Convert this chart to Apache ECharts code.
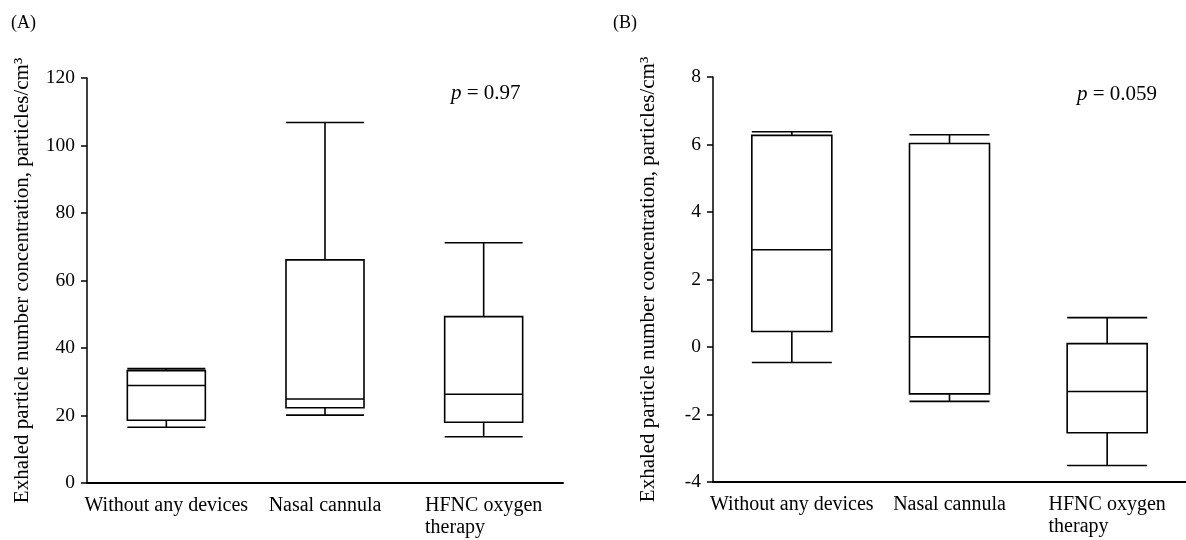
<!DOCTYPE html>
<html>
<head>
<meta charset="utf-8">
<script src="https://cdn.jsdelivr.net/npm/echarts@6/dist/echarts.min.js"></script>
<style>
  html, body { margin: 0; padding: 0; background: #fff; }
  #chart { width: 1186px; height: 540px; }
</style>
</head>
<body>
<div id="chart"></div>
<script>
// categories shared by both panels
var categories = ["Without any devices", "Nasal cannula", "HFNC oxygen\ntherapy"];

// panel A: [min, Q1, median, Q3, max]
var boxA = [
  [16.5, 18.6, 28.9, 33.3, 33.9],
  [20.1, 22.3, 24.9, 66.1, 106.8],
  [13.7, 18.0, 26.3, 49.3, 71.2]
];
// panel B: [min, Q1, median, Q3, max]
var boxB = [
  [-0.46, 0.46, 2.88, 6.27, 6.38],
  [-1.61, -1.39, 0.30, 6.03, 6.29],
  [-3.51, -2.54, -1.32, 0.10, 0.87]
];

var axisA = { min: 0, max: 120, interval: 20 };
var axisB = { min: -4, max: 8, interval: 2 };
var pTexts = ["0.97", "0.059"];
var yName = "Exhaled particle number concentration, particles/cm³";

var FONT = "'Liberation Serif', 'Times New Roman', serif";

function xAxisOf(gridIndex) {
  return {
    type: "category",
    gridIndex: gridIndex,
    data: categories,
    axisLine: { onZero: false, lineStyle: { color: "#000", width: 2 } },
    axisTick: { show: false },
    axisLabel: {
      interval: 0,
      margin: 12,
      color: "#000",
      fontFamily: FONT,
      fontSize: 20,
      lineHeight: 22,
      // left-align the lines of a wrapped label
      formatter: function (v) {
        return v.split("\n").map(function (s) { return "{l|" + s + "}"; }).join("\n");
      },
      rich: { l: { align: "left", fontFamily: FONT, fontSize: 20, lineHeight: 22, color: "#000" } }
    }
  };
}

function yAxisOf(gridIndex, range) {
  return {
    type: "value",
    gridIndex: gridIndex,
    min: range.min,
    max: range.max,
    interval: range.interval,
    name: yName,
    nameLocation: "middle",
    nameGap: 54,
    nameTextStyle: { color: "#000", fontFamily: FONT, fontSize: 21 },
    splitLine: { show: false },
    axisLine: { show: true, lineStyle: { color: "#000", width: 1.5 } },
    axisTick: { show: true, length: 6, lineStyle: { color: "#000", width: 1.5 } },
    axisLabel: { margin: 12, color: "#000", fontFamily: FONT, fontSize: 19.5 }
  };
}

function boxSeries(idx, data, w) {
  return {
    type: "boxplot",
    xAxisIndex: idx,
    yAxisIndex: idx,
    data: data,
    boxWidth: [w, w],
    itemStyle: { color: "#fff", borderColor: "#000", borderWidth: 1.6 },
    emphasis: { disabled: true },
    silent: true
  };
}

function pTitle(text, left, top) {
  return {
    text: "{i|p} = " + text,
    left: left,
    top: top,
    padding: 0,
    textStyle: {
      fontFamily: FONT, fontSize: 21, fontWeight: "normal", color: "#000",
      rich: { i: { fontFamily: FONT, fontSize: 21, fontStyle: "italic", color: "#000" } }
    }
  };
}

var chart = echarts.init(document.getElementById("chart"));
chart.setOption({
  animation: false,
  backgroundColor: "#fff",
  title: [
    { text: "(A)", left: 11, top: 14, padding: 0,
      textStyle: { fontFamily: FONT, fontSize: 18, fontWeight: "normal", color: "#000" } },
    { text: "(B)", left: 613, top: 14, padding: 0,
      textStyle: { fontFamily: FONT, fontSize: 18, fontWeight: "normal", color: "#000" } },
    pTitle(pTexts[0], 451, 83),
    pTitle(pTexts[1], 1077, 84)
  ],
  grid: [
    { left: 87, top: 78, width: 476, height: 405 },
    { left: 713, top: 77, width: 486, height: 405 }
  ],
  xAxis: [xAxisOf(0), xAxisOf(1)],
  yAxis: [yAxisOf(0, axisA), yAxisOf(1, axisB)],
  series: [boxSeries(0, boxA, 78), boxSeries(1, boxB, 80)]
});
</script>
</body>
</html>
